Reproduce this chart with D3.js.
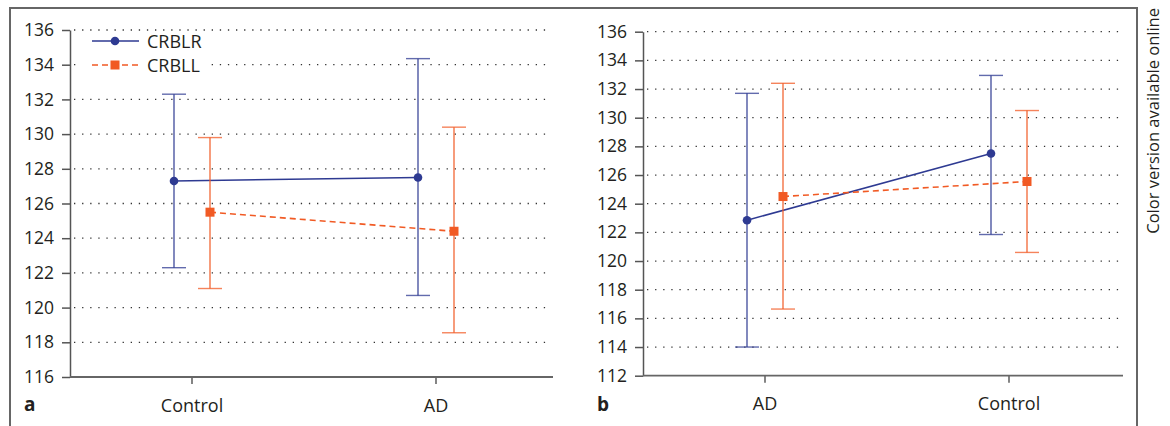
<!DOCTYPE html>
<html>
<head>
<meta charset="utf-8">
<script src="https://cdn.jsdelivr.net/npm/d3@7"></script>
<style>
  body { margin: 0; background: #fff; }
  text { font-family: 'Open Sans', sans-serif; fill: #231f20; }
</style>
</head>
<body>
<div id="chart"></div>
<script>
// data
const seriesNames = ['CRBLR', 'CRBLL']

const catsA = ['Control', 'AD']
const crblrMeanA = [127.3, 127.5]
const crblrLowA = [122.3, 120.7]
const crblrHighA = [132.3, 134.35]
const crbllMeanA = [125.5, 124.4]
const crbllLowA = [121.1, 118.55]
const crbllHighA = [129.8, 130.4]
const yTicksA = [116, 118, 120, 122, 124, 126, 128, 130, 132, 134, 136]

const catsB = ['AD', 'Control']
const crblrMeanB = [122.85, 127.5]
const crblrLowB = [114.0, 121.85]
const crblrHighB = [131.7, 132.95]
const crbllMeanB = [124.5, 125.55]
const crbllLowB = [116.65, 120.6]
const crbllHighB = [132.4, 130.5]
const yTicksB = [112, 114, 116, 118, 120, 122, 124, 126, 128, 130, 132, 134, 136]

const blue = '#2e3a92'
const orange = '#f15a24'
const colorScale = d3.scaleOrdinal().domain(seriesNames).range([blue, orange])

const svg = d3
  .select('#chart')
  .append('svg')
  .attr('width', 1170)
  .attr('height', 426)

// outer frame
svg
  .append('rect')
  .attr('x', 10)
  .attr('y', 8)
  .attr('width', 1127)
  .attr('height', 440)
  .attr('fill', 'none')
  .attr('stroke', '#666')
  .attr('stroke-width', 2)

svg
  .append('text')
  .attr('transform', 'translate(1159, 8) rotate(-90)')
  .attr('text-anchor', 'end')
  .attr('font-size', 16.5)
  .text('Color version available online')

function drawPanel(opts) {
  const g = svg.append('g').attr('transform', `translate(${opts.left}, 0)`)

  const yScale = d3
    .scaleLinear()
    .domain(d3.extent(opts.yTicks))
    .range([opts.bottom, opts.top])

  const xScale = d3
    .scaleBand()
    .domain(opts.cats)
    .range([0, 488])

  const offset = d3
    .scalePoint()
    .domain(seriesNames)
    .range([-18, 18])

  const cx = (cat, s) => xScale(cat) + xScale.bandwidth() / 2 + offset(s)

  // dotted grid
  g.selectAll('.grid')
    .data(opts.yTicks.slice(1))
    .enter()
    .append('line')
    .attr('class', 'grid')
    .attr('x1', 4)
    .attr('x2', opts.gridEnd)
    .attr('y1', d => yScale(d))
    .attr('y2', d => yScale(d))
    .attr('stroke', '#333')
    .attr('stroke-width', 1.3)
    .attr('stroke-dasharray', '1.3,6.8')

  const yAxis = d3
    .axisLeft(yScale)
    .tickValues(opts.yTicks)
    .tickSize(8)
    .tickPadding(8)
    .tickSizeOuter(0)

  const yg = g.append('g').call(yAxis)
  yg.select('.domain').attr('stroke', '#555').attr('stroke-width', 1.5)
  yg.selectAll('.tick line').attr('stroke', '#555').attr('stroke-width', 1.5)
  yg.selectAll('text').attr('font-size', 17.5).attr('fill', '#231f20')

  const xAxis = d3
    .axisBottom(xScale)
    .tickSize(7)
    .tickPadding(15)
    .tickSizeOuter(0)

  const xg = g
    .append('g')
    .attr('transform', `translate(0, ${opts.bottom})`)
    .call(xAxis)
  xg.select('.domain').remove()
  xg.selectAll('.tick line').attr('stroke', '#333').attr('stroke-width', 1.2)
  xg.selectAll('text').attr('font-size', 18).attr('fill', '#231f20')

  xg.append('line')
    .attr('x1', 0)
    .attr('x2', opts.gridEnd + 3)
    .attr('stroke', '#666')
    .attr('stroke-width', 1.8)

  // panel letter
  g.append('text')
    .attr('x', opts.letterX)
    .attr('y', 411)
    .attr('font-size', 19)
    .attr('font-weight', 'bold')
    .text(opts.letter)

  const series = [
    { name: 'CRBLR', mean: opts.rMean, low: opts.rLow, high: opts.rHigh, dash: null },
    { name: 'CRBLL', mean: opts.lMean, low: opts.lLow, high: opts.lHigh, dash: '6,4' }
  ]

  series.forEach(s => {
    const color = colorScale(s.name)
    const pts = opts.cats.map((c, i) => ({
      x: cx(c, s.name),
      mean: s.mean[i],
      low: s.low[i],
      high: s.high[i]
    }))

    // error bars
    g.selectAll(null)
      .data(pts)
      .enter()
      .append('line')
      .attr('x1', d => d.x)
      .attr('x2', d => d.x)
      .attr('y1', d => yScale(d.low))
      .attr('y2', d => yScale(d.high))
      .attr('stroke', color)
      .attr('stroke-width', 1.2)

    ;['low', 'high'].forEach(k => {
      g.selectAll(null)
        .data(pts)
        .enter()
        .append('line')
        .attr('x1', d => d.x - 12)
        .attr('x2', d => d.x + 12)
        .attr('y1', d => yScale(d[k]))
        .attr('y2', d => yScale(d[k]))
        .attr('stroke', color)
        .attr('stroke-opacity', 0.75)
        .attr('stroke-width', 1.4)
    })

    const line = d3
      .line()
      .x(d => d.x)
      .y(d => yScale(d.mean))

    g.append('path')
      .datum(pts)
      .attr('d', line)
      .attr('fill', 'none')
      .attr('stroke', color)
      .attr('stroke-width', 1.6)
      .attr('stroke-dasharray', s.dash)

    if (s.name === 'CRBLR') {
      g.selectAll(null)
        .data(pts)
        .enter()
        .append('circle')
        .attr('cx', d => d.x)
        .attr('cy', d => yScale(d.mean))
        .attr('r', 4.3)
        .attr('fill', color)
    } else {
      g.selectAll(null)
        .data(pts)
        .enter()
        .append('rect')
        .attr('x', d => d.x - 4.5)
        .attr('y', d => yScale(d.mean) - 4.5)
        .attr('width', 9)
        .attr('height', 9)
        .attr('fill', color)
    }
  })

  return g
}

const gA = drawPanel({
  left: 70,
  top: 30,
  bottom: 377,
  gridEnd: 480,
  letter: 'a',
  letterX: -46,
  cats: catsA,
  yTicks: yTicksA,
  rMean: crblrMeanA,
  rLow: crblrLowA,
  rHigh: crblrHighA,
  lMean: crbllMeanA,
  lLow: crbllLowA,
  lHigh: crbllHighA
})

drawPanel({
  left: 643,
  top: 31.7,
  bottom: 375.7,
  gridEnd: 477,
  letter: 'b',
  letterX: -46,
  cats: catsB,
  yTicks: yTicksB,
  rMean: crblrMeanB,
  rLow: crblrLowB,
  rHigh: crblrHighB,
  lMean: crbllMeanB,
  lLow: crbllLowB,
  lHigh: crbllHighB
})

// legend in panel a
const legend = gA.append('g')

legend
  .append('rect')
  .attr('x', 10)
  .attr('y', 34)
  .attr('width', 130)
  .attr('height', 42)
  .attr('fill', '#fff')

seriesNames.forEach((name, i) => {
  const y = 41 + i * 24
  const color = colorScale(name)
  legend
    .append('line')
    .attr('x1', 22)
    .attr('x2', 69)
    .attr('y1', y)
    .attr('y2', y)
    .attr('stroke', color)
    .attr('stroke-width', 1.6)
    .attr('stroke-dasharray', i === 1 ? '6,4' : null)
  if (i === 0) {
    legend.append('circle').attr('cx', 45).attr('cy', y).attr('r', 4.3).attr('fill', color)
  } else {
    legend
      .append('rect')
      .attr('x', 40.5)
      .attr('y', y - 4.5)
      .attr('width', 9)
      .attr('height', 9)
      .attr('fill', color)
  }
  legend
    .append('text')
    .attr('x', 77)
    .attr('y', y + 6.5)
    .attr('font-size', 18)
    .text(name)
})
</script>
</body>
</html>
